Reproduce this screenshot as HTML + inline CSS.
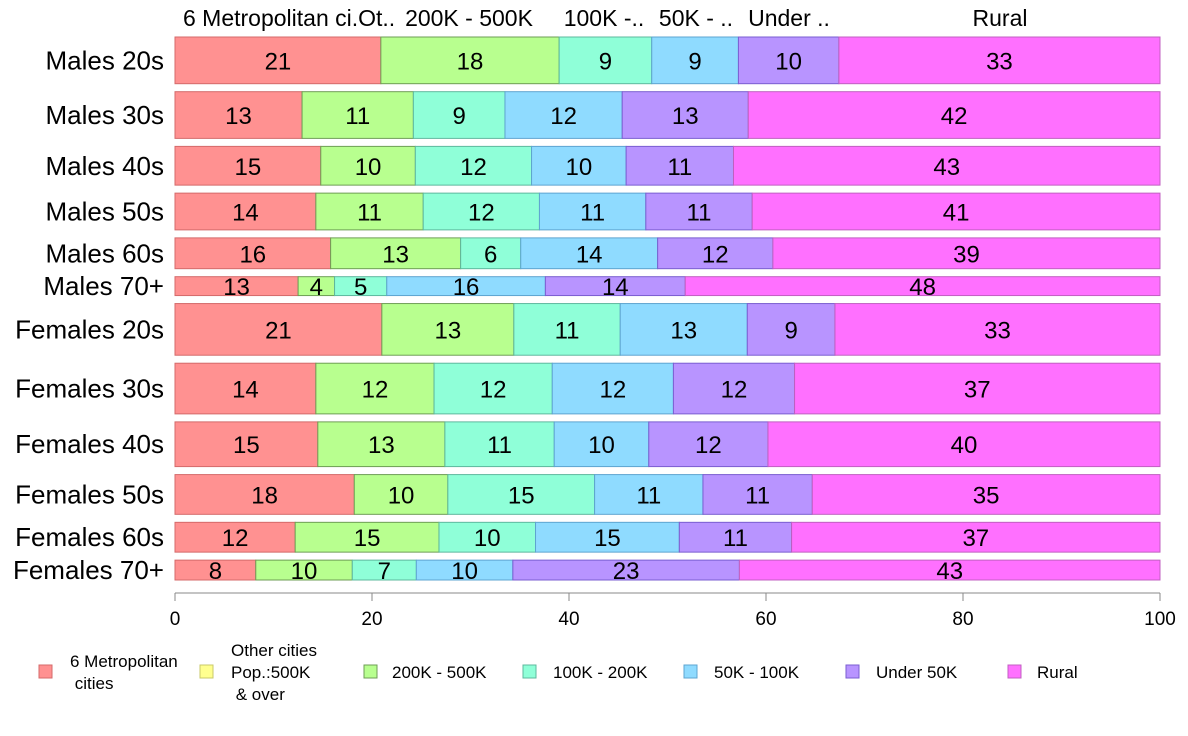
<!DOCTYPE html>
<html><head><meta charset="utf-8"><style>
html,body{margin:0;padding:0;background:#fff;}
svg{display:block;font-family:"Liberation Sans",Arial,sans-serif;}
</style></head><body>
<svg id="chart" width="1188" height="736" viewBox="0 0 1188 736">
<g id="header" font-size="23" fill="#000">
<text x="183" y="26">6 Metropolitan ci.Ot..</text>
<text x="469" y="26" text-anchor="middle">200K - 500K</text>
<text x="604" y="26" text-anchor="middle">100K -..</text>
<text x="696" y="26" text-anchor="middle">50K - ..</text>
<text x="789" y="26" text-anchor="middle">Under ..</text>
<text x="1000" y="26" text-anchor="middle">Rural</text>
</g>
<g id="bars"></g>
<g id="axis"></g>
<g id="legend" font-size="17" fill="#000"></g>
</svg>
<script>
const rows = ["Males 20s","Males 30s","Males 40s","Males 50s","Males 60s","Males 70+","Females 20s","Females 30s","Females 40s","Females 50s","Females 60s","Females 70+"];
const rowWeights = [47,47,39,37,31,19,52,51,45,40,30,20];
const metro = [20.9,12.9,14.8,14.3,15.8,12.5,21.0,14.3,14.5,18.2,12.2,8.2];
const otherCities = [0,0,0,0,0,0,0,0,0,0,0,0];
const k200to500 = [18.1,11.3,9.6,10.9,13.2,3.7,13.4,12.0,12.9,9.5,14.6,9.8];
const k100to200 = [9.4,9.3,11.8,11.8,6.1,5.3,10.8,12.0,11.1,14.9,9.8,6.5];
const k50to100 = [8.8,11.9,9.6,10.8,13.9,16.1,12.9,12.3,9.6,11.0,14.6,9.8];
const under50 = [10.2,12.8,10.9,10.8,11.7,14.2,8.9,12.3,12.1,11.1,11.4,23.0];
const rural = [32.6,41.8,43.3,41.4,39.3,48.2,33.0,37.1,39.8,35.3,37.4,42.7];
const seriesNames = ["6 Metropolitan cities","Other cities Pop.:500K & over","200K - 500K","100K - 200K","50K - 100K","Under 50K","Rural"];
const xTicks = [0,20,40,60,80,100];

const series = [metro,otherCities,k200to500,k100to200,k50to100,under50,rural];
const fills = ["#FF9191","#FFFF8F","#B8FF8F","#8FFFD8","#8FDBFF","#B894FF","#FF70FF"];
const strokes = ["#D46A6A","#C8C86A","#6E9E55","#5EB89E","#5EA4D0","#7A5ED0","#C060C0"];
const NS = "http://www.w3.org/2000/svg";
const X0 = 175, X1 = 1160, Y0 = 37, Y1 = 580;
function xs(v){ return X0 + v/100*(X1-X0); }
const gap = 8;
const totalW = rowWeights.reduce((a,b)=>a+b,0);
const avail = (Y1-Y0) - gap*(rows.length-1);
function mk(tag, attrs){ const e=document.createElementNS(NS,tag); for(const k in attrs) e.setAttribute(k,attrs[k]); return e; }

const barsG = document.getElementById("bars");
let y = Y0;
rows.forEach((r,i)=>{
  const h = rowWeights[i]/totalW*avail;
  const lbl = mk("text",{x:164,y:y+h/2+9,"text-anchor":"end","font-size":26});
  lbl.textContent = r;
  
  
  barsG.appendChild(lbl);
  let acc = 0;
  series.forEach((s,j)=>{
    const v = s[i];
    if (v <= 0) { return; }
    const rect = mk("rect",{x:xs(acc),y:y,width:xs(acc+v)-xs(acc),height:h,fill:fills[j],stroke:strokes[j],"stroke-width":1});
    
    
    barsG.appendChild(rect);
    const t = mk("text",{x:(xs(acc)+xs(acc+v))/2,y:y+h/2+9,"text-anchor":"middle","font-size":24});
    t.textContent = Math.round(v);
    
    
    barsG.appendChild(t);
    acc += v;
  });
  y += h + gap;
});

const axG = document.getElementById("axis");
const axLine = mk("line",{x1:xs(0),x2:xs(100),y1:593,y2:593,stroke:"#888","stroke-width":1});


axG.appendChild(axLine);
xTicks.forEach(t=>{
  const tk = mk("line",{x1:xs(t),x2:xs(t),y1:593,y2:601,stroke:"#888","stroke-width":1});
  
  
  axG.appendChild(tk);
  const tl = mk("text",{x:xs(t),y:625,"text-anchor":"middle","font-size":19});
  tl.textContent = t;
  
  
  axG.appendChild(tl);
});

const lg = document.getElementById("legend");
const sqX = [39,200,364,523,684,846,1008];
const txX = [70,231,392,553,714,876,1037];
const lines = [["6 Metropolitan"," cities"],["Other cities","Pop.:500K"," & over"],["200K - 500K"],["100K - 200K"],["50K - 100K"],["Under 50K"],["Rural"]];
seriesNames.forEach((n,j)=>{
  const sq = mk("rect",{x:sqX[j],y:665,width:13,height:13,fill:fills[j],stroke:strokes[j]});
  
  
  lg.appendChild(sq);
  const ls = lines[j];
  const t = mk("text",{x:txX[j],y:0,"font-size":17});
  
  
  const startY = 678 - (ls.length-1)*22/2;
  ls.forEach((s,k)=>{
    const ts = mk("tspan",{x:txX[j],y:startY+k*22});
    ts.textContent = s;
    t.appendChild(ts);
  });
  lg.appendChild(t);
});
</script>
</body></html>
